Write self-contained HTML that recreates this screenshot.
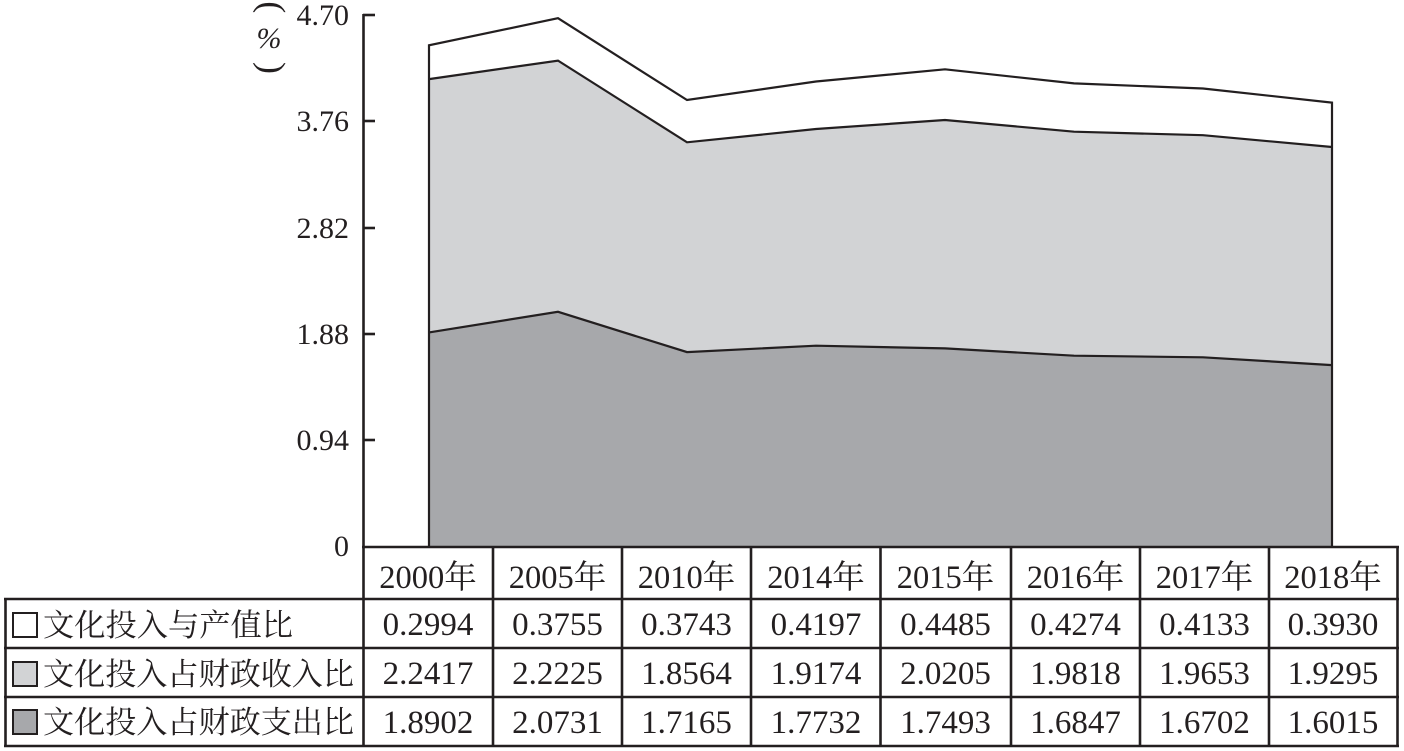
<!DOCTYPE html>
<html>
<head>
<meta charset="utf-8">
<style>
html,body{margin:0;padding:0;background:#fff;}
svg{display:block;}
.num{font-family:"Liberation Serif","Noto Serif CJK SC",serif;fill:#231f20;}
.cjk{font-family:"Liberation Serif","Noto Serif CJK SC","Noto Sans CJK SC",serif;fill:#231f20;}
</style>
</head>
<body>
<svg width="1404" height="751" viewBox="0 0 1404 751" xmlns="http://www.w3.org/2000/svg">
  <rect x="0" y="0" width="1404" height="751" fill="#fff"/>

  <!-- stacked areas -->
  <polygon fill="#a7a8ab" points="429,546 429,332.4 558,311.8 687,352.1 816,345.7 945,348.4 1074,355.7 1203,357.3 1332,365.1 1332,546"/>
  <polygon fill="#d2d3d5" points="429,332.4 558,311.8 687,352.1 816,345.7 945,348.4 1074,355.7 1203,357.3 1332,365.1 1332,147.0 1203,135.2 1074,131.7 945,120.0 816,129.0 687,142.3 558,60.6 429,79.1"/>
  <polygon fill="#ffffff" points="429,79.1 558,60.6 687,142.3 816,129.0 945,120.0 1074,131.7 1203,135.2 1332,147.0 1332,102.6 1203,88.5 1074,83.4 945,69.3 816,81.5 687,100.0 558,18.2 429,45.3"/>

  <g fill="none" stroke="#231f20" stroke-width="2.2" stroke-linejoin="miter">
    <polyline points="429,332.4 558,311.8 687,352.1 816,345.7 945,348.4 1074,355.7 1203,357.3 1332,365.1"/>
    <polyline points="429,79.1 558,60.6 687,142.3 816,129.0 945,120.0 1074,131.7 1203,135.2 1332,147.0"/>
    <polyline points="429,546 429,45.3 558,18.2 687,100.0 816,81.5 945,69.3 1074,83.4 1203,88.5 1332,102.6 1332,546"/>
  </g>

  <!-- y axis -->
  <g stroke="#231f20" stroke-width="2.6">
    <line x1="363.5" y1="14" x2="363.5" y2="548"/>
    <line x1="363" y1="15" x2="375" y2="15"/>
    <line x1="363" y1="121" x2="375" y2="121"/>
    <line x1="363" y1="228" x2="375" y2="228"/>
    <line x1="363" y1="334" x2="375" y2="334"/>
    <line x1="363" y1="440" x2="375" y2="440"/>
  </g>
  <g class="num" font-size="30" text-anchor="end">
    <text x="349" y="25">4.70</text>
    <text x="349" y="131">3.76</text>
    <text x="349" y="238">2.82</text>
    <text x="349" y="344">1.88</text>
    <text x="349" y="450">0.94</text>
    <text x="349" y="556">0</text>
  </g>

  <!-- y axis unit label -->
  <text class="num" font-size="36" transform="translate(260.7,1.2) rotate(90)">(</text>
  <text class="num" font-size="30" x="269" y="48" text-anchor="middle" font-style="italic">%</text>
  <text class="num" font-size="36" transform="translate(260.7,62) rotate(90)">)</text>

  <!-- table lines -->
  <g stroke="#231f20" stroke-width="2.6" fill="none">
    <line x1="362" y1="547" x2="1399" y2="547"/>
    <line x1="4" y1="599" x2="1399" y2="599"/>
    <line x1="4" y1="648" x2="1399" y2="648"/>
    <line x1="4" y1="697" x2="1399" y2="697"/>
    <line x1="4" y1="746" x2="1399" y2="746"/>
    <line x1="5.5" y1="598" x2="5.5" y2="747"/>
    <line x1="363.5" y1="546" x2="363.5" y2="747"/>
    <line x1="493" y1="546" x2="493" y2="747"/>
    <line x1="622" y1="546" x2="622" y2="747"/>
    <line x1="751" y1="546" x2="751" y2="747"/>
    <line x1="880.5" y1="546" x2="880.5" y2="747"/>
    <line x1="1011" y1="546" x2="1011" y2="747"/>
    <line x1="1140" y1="546" x2="1140" y2="747"/>
    <line x1="1269" y1="546" x2="1269" y2="747"/>
    <line x1="1397.5" y1="546" x2="1397.5" y2="747"/>
  </g>

  <!-- header years -->
  <g class="cjk" font-size="32.5" text-anchor="middle">
    <text x="428" y="588">2000年</text>
    <text x="557.5" y="588">2005年</text>
    <text x="686.5" y="588">2010年</text>
    <text x="816" y="588">2014年</text>
    <text x="945.5" y="588">2015年</text>
    <text x="1075.5" y="588">2016年</text>
    <text x="1204.5" y="588">2017年</text>
    <text x="1333" y="588">2018年</text>
  </g>

  <!-- legend squares -->
  <g stroke="#231f20" stroke-width="2">
    <rect x="13" y="613" width="24" height="24" fill="#ffffff"/>
    <rect x="13" y="662" width="24" height="24" fill="#d2d3d5"/>
    <rect x="13" y="710" width="24" height="24" fill="#a7a8ab"/>
  </g>
  <g class="cjk" font-size="31">
    <text x="43" y="636" textLength="250" lengthAdjust="spacingAndGlyphs">文化投入与产值比</text>
    <text x="43" y="685" textLength="311" lengthAdjust="spacingAndGlyphs">文化投入占财政收入比</text>
    <text x="43" y="733" textLength="311" lengthAdjust="spacingAndGlyphs">文化投入占财政支出比</text>
  </g>

  <!-- values -->
  <g class="num" font-size="33" text-anchor="middle">
    <text x="428" y="635">0.2994</text>
    <text x="557.5" y="635">0.3755</text>
    <text x="686.5" y="635">0.3743</text>
    <text x="816" y="635">0.4197</text>
    <text x="945.5" y="635">0.4485</text>
    <text x="1075.5" y="635">0.4274</text>
    <text x="1204.5" y="635">0.4133</text>
    <text x="1333" y="635">0.3930</text>

    <text x="428" y="684">2.2417</text>
    <text x="557.5" y="684">2.2225</text>
    <text x="686.5" y="684">1.8564</text>
    <text x="816" y="684">1.9174</text>
    <text x="945.5" y="684">2.0205</text>
    <text x="1075.5" y="684">1.9818</text>
    <text x="1204.5" y="684">1.9653</text>
    <text x="1333" y="684">1.9295</text>

    <text x="428" y="733">1.8902</text>
    <text x="557.5" y="733">2.0731</text>
    <text x="686.5" y="733">1.7165</text>
    <text x="816" y="733">1.7732</text>
    <text x="945.5" y="733">1.7493</text>
    <text x="1075.5" y="733">1.6847</text>
    <text x="1204.5" y="733">1.6702</text>
    <text x="1333" y="733">1.6015</text>
  </g>
</svg>
</body>
</html>
